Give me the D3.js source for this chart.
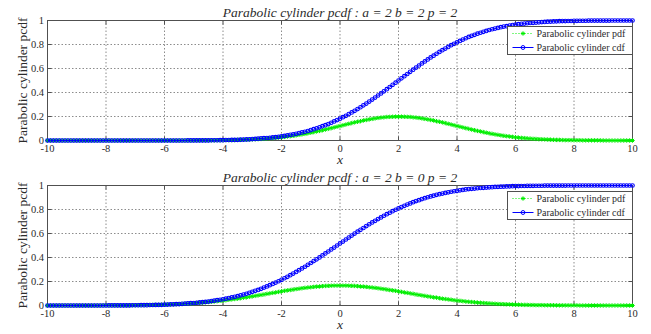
<!DOCTYPE html>
<html>
<head>
<meta charset="utf-8">
<script src="https://cdn.jsdelivr.net/npm/d3@7"></script>
<style>
  body { margin: 0; background: #fff; }
  text { font-family: "Liberation Serif", "Times New Roman", Times, serif; }
</style>
</head>
<body>
<div id="chart"></div>
<script>
// sample grid: x runs from -10 to 10 in steps of 0.1 (201 points)
var xStart = -10, xStep = 0.1;
var xTicks = [-10, -8, -6, -4, -2, 0, 2, 4, 6, 8, 10];
var yTicks = [0, 0.2, 0.4, 0.6, 0.8, 1];
var yTickLabels = ["0", "0.2", "0.4", "0.6", "0.8", "1"];
var titles = ["Parabolic cylinder pcdf : a = 2 b = 2 p = 2",
              "Parabolic cylinder pcdf : a = 2 b = 0 p = 2"];
var seriesNames = ["Parabolic cylinder pdf", "Parabolic cylinder cdf"];
var yLabel = "Parabolic cylinder pcdf";
var xLabel = "x";

var pdfTop = [
  0,0,0,0,0,0,0,0,0,0,
  0,0,0,0,0,0,0,0,0,0,
  0,0,0,0,0,0,0,0,0,0,
  0,0,0,0,0,0,0,0,0,0,
  0,0,0,0,0,0,0,0,0,0,
  0,.001,.001,.001,.001,.001,.001,.001,.002,.002,
  .002,.003,.003,.003,.004,.005,.005,.006,.007,.008,
  .009,.010,.011,.013,.014,.016,.018,.020,.022,.024,
  .027,.030,.033,.036,.039,.043,.047,.051,.055,.060,
  .065,.070,.075,.080,.086,.091,.097,.103,.109,.115,
  .121,.127,.133,.139,.145,.151,.156,.161,.167,.171,
  .176,.180,.184,.188,.191,.193,.196,.197,.198,.199,
  .199,.199,.198,.197,.196,.193,.191,.188,.184,.180,
  .176,.171,.167,.161,.156,.151,.145,.139,.133,.127,
  .121,.115,.109,.103,.097,.091,.086,.080,.075,.070,
  .065,.060,.055,.051,.047,.043,.039,.036,.033,.030,
  .027,.024,.022,.020,.018,.016,.014,.013,.011,.010,
  .009,.008,.007,.006,.005,.005,.004,.003,.003,.003,
  .002,.002,.002,.001,.001,.001,.001,.001,.001,.001,
  0,0,0,0,0,0,0,0,0,0,
  0];

var cdfTop = [
  0,0,0,0,0,0,0,0,0,0,
  0,0,0,0,0,0,0,0,0,0,
  0,0,0,0,0,0,0,0,0,0,
  0,0,0,0,0,0,0,0,0,0,
  0,0,0,0,0,0,0,0,.001,.001,
  .001,.001,.001,.001,.001,.001,.002,.002,.002,.003,
  .003,.004,.004,.005,.005,.006,.007,.008,.009,.010,
  .012,.013,.015,.017,.019,.021,.023,.026,.028,.031,
  .034,.038,.042,.047,.051,.056,.062,.067,.073,.079,
  .087,.094,.102,.110,.119,.128,.137,.148,.159,.170,
  .182,.194,.206,.220,.234,.247,.262,.277,.293,.308,
  .324,.341,.358,.375,.392,.410,.428,.446,.464,.482,
  .500,.518,.536,.554,.572,.590,.608,.625,.642,.659,
  .676,.692,.707,.723,.738,.753,.766,.780,.794,.806,
  .818,.830,.841,.852,.863,.872,.881,.890,.898,.906,
  .913,.921,.927,.933,.938,.944,.949,.953,.958,.962,
  .966,.969,.972,.974,.977,.979,.981,.983,.985,.987,
  .988,.990,.991,.992,.993,.994,.995,.995,.996,.996,
  .997,.997,.998,.998,.998,.999,.999,.999,.999,.999,
  .999,.999,.999,1,1,1,1,1,1,1,
  1];

var pdfBottom = [
  0,0,0,0,0,0,0,0,0,0,
  0,0,0,0,0,0,0,0,0,.001,
  .001,.001,.001,.001,.001,.001,.001,.002,.002,.002,
  .002,.003,.003,.003,.004,.004,.005,.005,.006,.007,
  .007,.008,.009,.010,.011,.012,.013,.015,.016,.017,
  .019,.021,.023,.024,.027,.029,.031,.033,.036,.039,
  .041,.044,.048,.051,.054,.057,.061,.065,.068,.072,
  .076,.080,.084,.088,.092,.097,.101,.105,.109,.113,
  .118,.122,.126,.129,.133,.137,.140,.144,.147,.150,
  .152,.155,.157,.159,.161,.163,.164,.165,.166,.166,
  .166,.166,.166,.165,.164,.163,.161,.159,.157,.155,
  .152,.150,.147,.144,.140,.137,.133,.129,.126,.122,
  .118,.113,.109,.105,.101,.097,.092,.088,.084,.080,
  .076,.072,.068,.065,.061,.057,.054,.051,.048,.044,
  .041,.039,.036,.033,.031,.029,.027,.024,.023,.021,
  .019,.017,.016,.015,.013,.012,.011,.010,.009,.008,
  .007,.007,.006,.005,.005,.004,.004,.003,.003,.003,
  .002,.002,.002,.002,.001,.001,.001,.001,.001,.001,
  .001,.001,0,0,0,0,0,0,0,0,
  0,0,0,0,0,0,0,0,0,0,
  0];

var cdfBottom = [
  0,0,0,0,0,0,0,0,0,0,
  0,0,0,0,0,0,0,0,0,0,
  0,.001,.001,.001,.001,.001,.001,.001,.001,.002,
  .002,.002,.003,.003,.003,.004,.004,.005,.005,.006,
  .007,.008,.009,.010,.011,.012,.014,.015,.017,.019,
  .021,.023,.026,.028,.030,.033,.037,.040,.044,.048,
  .052,.057,.062,.067,.072,.078,.085,.091,.098,.106,
  .114,.122,.130,.139,.149,.159,.169,.180,.191,.202,
  .214,.227,.239,.253,.266,.280,.294,.309,.323,.339,
  .354,.370,.385,.401,.417,.434,.450,.467,.483,.500,
  .517,.533,.550,.566,.583,.599,.615,.631,.646,.662,
  .677,.692,.706,.720,.734,.748,.761,.773,.786,.798,
  .809,.820,.831,.841,.851,.861,.870,.878,.887,.894,
  .902,.909,.915,.922,.928,.933,.938,.943,.948,.952,
  .956,.960,.963,.967,.970,.972,.974,.977,.979,.981,
  .983,.985,.986,.988,.989,.990,.991,.992,.993,.994,
  .995,.995,.996,.996,.997,.997,.997,.998,.998,.998,
  .999,.999,.999,.999,.999,.999,.999,.999,1,1,
  1,1,1,1,1,1,1,1,1,1,
  1,1,1,1,1,1,1,1,1,1,
  1];

var width = 651,
  height = 334,
  textColor = "#2b2b2b",
  pdfColor = "#00ee00",
  cdfColor = "#0000ff",
  axisColor = "#505050",
  gridColor = "#8c8c8c";

var svg = d3.select("#chart")
  .append("svg")
  .attr("width", width)
  .attr("height", height);

svg.append("rect")
  .attr("width", width)
  .attr("height", height)
  .attr("fill", "#fff");

var x = d3.scaleLinear()
  .domain([-10, 10])
  .range([47.5, 632.5]);

// small asterisk marker, like matlab's '*'
function starPath(r) {
  var p = d3.path(), d = r * 0.72;
  p.moveTo(-r, 0); p.lineTo(r, 0);
  p.moveTo(0, -r); p.lineTo(0, r);
  p.moveTo(-d, -d); p.lineTo(d, d);
  p.moveTo(-d, d); p.lineTo(d, -d);
  return p.toString();
}

function addText(sel, size) {
  return sel.append("text")
    .style("font-family", "Liberation Serif")
    .style("font-size", size + "px")
    .attr("fill", textColor);
}

function drawPanel(top, title, pdf, cdf) {
  var y = d3.scaleLinear()
    .domain([0, 1])
    .range([top + 120, top]);

  var g = svg.append("g").attr("class", "panel");
  var x0 = x.range()[0], x1 = x.range()[1];
  var y0 = y.range()[0], y1 = y.range()[1];

  // dotted grid
  g.append("g").selectAll("line")
    .data(xTicks.slice(1, -1))
    .enter().append("line")
    .attr("x1", function(d) { return x(d); })
    .attr("x2", function(d) { return x(d); })
    .attr("y1", y0).attr("y2", y1)
    .attr("stroke", gridColor)
    .attr("stroke-dasharray", "1.5,2");

  g.append("g").selectAll("line")
    .data(yTicks.slice(1, -1))
    .enter().append("line")
    .attr("x1", x0).attr("x2", x1)
    .attr("y1", function(d) { return y(d); })
    .attr("y2", function(d) { return y(d); })
    .attr("stroke", gridColor)
    .attr("stroke-dasharray", "1.5,2");

  // axes box + inward ticks
  g.append("rect")
    .attr("x", x0).attr("y", y1)
    .attr("width", x1 - x0).attr("height", y0 - y1)
    .attr("fill", "none")
    .attr("stroke", axisColor);

  var tick = 4;
  g.append("g").selectAll("path")
    .data(xTicks)
    .enter().append("path")
    .attr("d", function(d) {
      return "M" + x(d) + "," + y0 + "v" + (-tick) + "M" + x(d) + "," + y1 + "v" + tick;
    })
    .attr("stroke", axisColor);

  g.append("g").selectAll("path")
    .data(yTicks)
    .enter().append("path")
    .attr("d", function(d) {
      return "M" + x0 + "," + y(d) + "h" + tick + "M" + x1 + "," + y(d) + "h" + (-tick);
    })
    .attr("stroke", axisColor);

  // tick labels
  var xt = g.append("g");
  xTicks.forEach(function(d) {
    addText(xt, 10.5)
      .attr("x", x(d))
      .attr("y", y0 + 11)
      .attr("text-anchor", "middle")
      .text(d);
  });

  var yt = g.append("g");
  yTicks.forEach(function(d, i) {
    addText(yt, 10.5)
      .attr("x", x0 - 3.5)
      .attr("y", y(d) + 3.5)
      .attr("text-anchor", "end")
      .text(yTickLabels[i]);
  });

  // title and axis labels
  addText(g, 13.5)
    .attr("x", (x0 + x1) / 2)
    .attr("y", top - 4)
    .attr("text-anchor", "middle")
    .style("font-style", "italic")
    .text(title);

  addText(g, 13.5)
    .attr("x", (x0 + x1) / 2)
    .attr("y", y0 + 23.5)
    .attr("text-anchor", "middle")
    .style("font-style", "italic")
    .text(xLabel);

  addText(g, 13.5)
    .attr("transform", "translate(26.5," + ((y0 + y1) / 2) + ") rotate(-90)")
    .attr("text-anchor", "middle")
    .text(yLabel);

  var pts = function(arr) {
    return arr.map(function(v, i) { return [xStart + i * xStep, v]; });
  };
  var line = d3.line()
    .x(function(d) { return x(d[0]); })
    .y(function(d) { return y(d[1]); });

  // pdf: green dotted line with stars
  g.append("path")
    .datum(pts(pdf))
    .attr("d", line)
    .attr("fill", "none")
    .attr("stroke", pdfColor)
    .attr("stroke-dasharray", "1,2");

  g.append("g").selectAll("path")
    .data(pts(pdf))
    .enter().append("path")
    .attr("transform", function(d) { return "translate(" + x(d[0]) + "," + y(d[1]) + ")"; })
    .attr("d", starPath(2.2))
    .attr("stroke", pdfColor)
    .attr("stroke-width", 1);

  // cdf: blue solid line with circles
  g.append("path")
    .datum(pts(cdf))
    .attr("d", line)
    .attr("fill", "none")
    .attr("stroke", cdfColor);

  g.append("g").selectAll("circle")
    .data(pts(cdf))
    .enter().append("circle")
    .attr("cx", function(d) { return x(d[0]); })
    .attr("cy", function(d) { return y(d[1]); })
    .attr("r", 1.8)
    .attr("fill", "none")
    .attr("stroke", cdfColor)
    .attr("stroke-width", 1.1);

  // legend box, upper right
  var lg = g.append("g")
    .attr("transform", "translate(" + (x1 - 125) + "," + (y1 + 6) + ")");
  lg.append("rect")
    .attr("width", 125).attr("height", 28)
    .attr("fill", "#fff")
    .attr("stroke", axisColor);

  seriesNames.forEach(function(name, i) {
    var row = lg.append("g")
      .attr("transform", "translate(0," + (7 + i * 14) + ")");
    var c = i == 0 ? pdfColor : cdfColor;
    row.append("line")
      .attr("x1", 5).attr("x2", 26)
      .attr("stroke", c)
      .attr("stroke-dasharray", i == 0 ? "1,2" : null);
    row.append("path")
      .attr("transform", "translate(15.5,0)")
      .attr("d", i == 0 ? starPath(2.2) : d3.symbol().type(d3.symbolCircle).size(12)())
      .attr("fill", "none")
      .attr("stroke", c);
    addText(row, 10)
      .attr("x", 29)
      .attr("y", 3.5)
      .text(name);
  });
}

drawPanel(20.5, titles[0], pdfTop, cdfTop);
drawPanel(185.5, titles[1], pdfBottom, cdfBottom);
</script>
</body>
</html>
